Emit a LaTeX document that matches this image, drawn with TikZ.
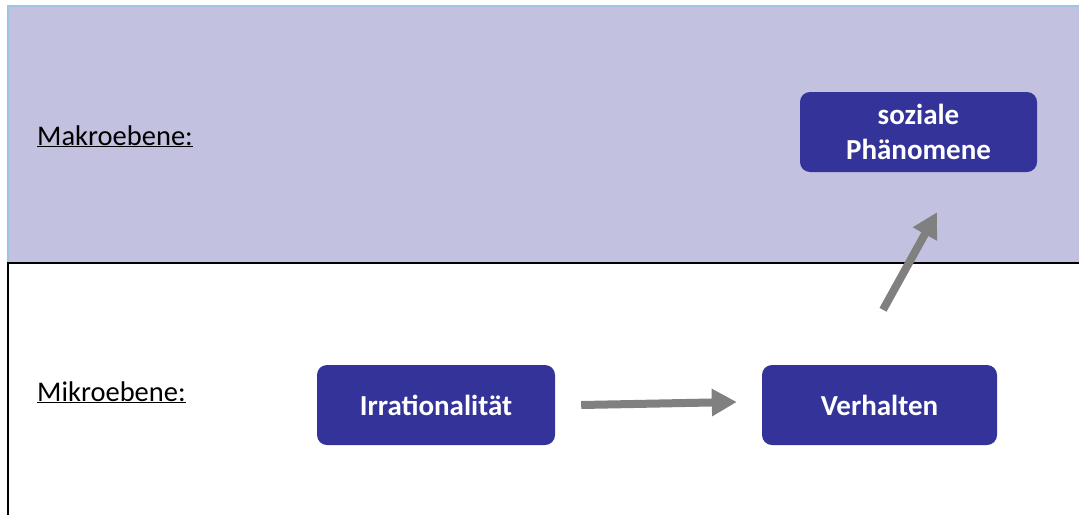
\documentclass[tikz,border=0pt]{standalone}
\usepackage{fontspec}
\setmainfont{Carlito}
\usetikzlibrary{arrows.meta}
\definecolor{bandc}{HTML}{C2C2E0}
\definecolor{borderc}{HTML}{9DC3E6}
\definecolor{boxc}{HTML}{333399}
\definecolor{arrc}{HTML}{808080}
\tikzset{
  levelbox/.style={fill=boxc, rounded corners=10pt, minimum width=237pt, minimum height=80pt,
    text=white, font=\fontsize{29}{35}\selectfont\bfseries, align=center, inner sep=0pt},
  leveltext/.style={anchor=base west, font=\fontsize{28.5}{34}\selectfont, inner sep=0pt},
  arr/.style={draw=arrc, line width=8pt, -{Triangle[length=25pt,width=26pt]}},
}
\begin{document}
\begin{tikzpicture}[x=1pt,y=-1pt]
\useasboundingbox (0,0) rectangle (1079,515);
\fill[bandc] (8,6) rectangle (1079,263);
\draw[borderc, line width=1.5pt] (1079,6) -- (8,6) -- (8,263);
\draw[black, line width=2pt] (1079,263) -- (8,263) -- (8,515);
\node[leveltext] (makro) at (37,145) {\underline{Makroebene:}};
\node[leveltext] (mikro) at (37,401) {\underline{Mikroebene:}};
\node[levelbox] (soz) at (918.5,132) {soziale\\Phänomene};
\node[levelbox, minimum width=238pt] (irr) at (436,405) {Irrationalität};
\node[levelbox, minimum width=235pt] (verh) at (879.5,405) {Verhalten};
\draw[arr] ([xshift=26pt]irr.east) -- ([xshift=-25pt,yshift=3pt]verh.west);
\draw[arr] ([shift={(3.5pt,55pt)}]verh.north) -- ([shift={(18.5pt,-40pt)}]soz.south);
\end{tikzpicture}
\end{document}
